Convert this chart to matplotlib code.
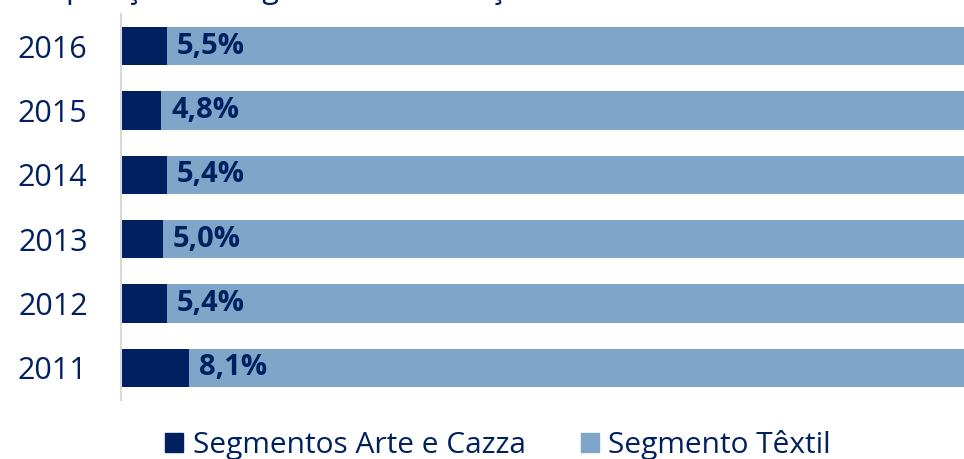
import matplotlib
matplotlib.use('Agg')
import matplotlib.pyplot as plt
from matplotlib.patches import Patch

plt.rcParams['font.family'] = ['Open Sans', 'DejaVu Sans']

anos = ['2011', '2012', '2013', '2014', '2015', '2016']
arte_cazza = [8.1, 5.4, 5.0, 5.4, 4.8, 5.5]
textil = [100 - v for v in arte_cazza]
rotulos = ['8,1%', '5,4%', '5,0%', '5,4%', '4,8%', '5,5%']
series = ['Segmentos Arte e Cazza', 'Segmento Têxtil']
titulo = 'Composição do Segmento de Atuação'

ESCURO = '#002060'
CLARO = '#7FA5C9'

fig = plt.figure(figsize=(9.64, 4.59), dpi=100)
ax = fig.add_axes([121 / 964, 59 / 459, 843 / 964, 386 / 459])

y = range(len(anos))
ax.barh(y, arte_cazza, height=0.6, color=ESCURO)
ax.barh(y, textil, left=arte_cazza, height=0.6, color=CLARO)

for i, (v, txt) in enumerate(zip(arte_cazza, rotulos)):
    ax.annotate(txt, (v, i), xytext=(7, 0), textcoords='offset points',
                ha='left', va='center', fontsize=21, fontweight='bold',
                color=ESCURO)

ax.set_xlim(0, 100)
ax.set_ylim(-0.5, len(anos) - 0.5)
ax.set_yticks(list(y))
ax.set_yticklabels(anos, fontsize=22, color=ESCURO)
ax.tick_params(axis='y', length=0, pad=24)
ax.set_xticks([])
for s in ['top', 'right', 'bottom']:
    ax.spines[s].set_visible(False)
ax.spines['left'].set_color('#D9D9D9')
ax.spines['left'].set_linewidth(1.5)

handles = [Patch(color=ESCURO), Patch(color=CLARO)]
fig.legend(handles, series, loc='center', ncol=2,
           bbox_to_anchor=(498 / 964, 1 - 445 / 459), frameon=False,
           fontsize=21.5, handlelength=0.6, handleheight=0.6,
           handletextpad=0.33, columnspacing=1.85, labelcolor=ESCURO,
           borderpad=0, borderaxespad=0)

fig.text(0.0, 1.004, titulo, fontsize=22, color=ESCURO, ha='left', va='baseline')

fig.savefig('out.png', dpi=100)
